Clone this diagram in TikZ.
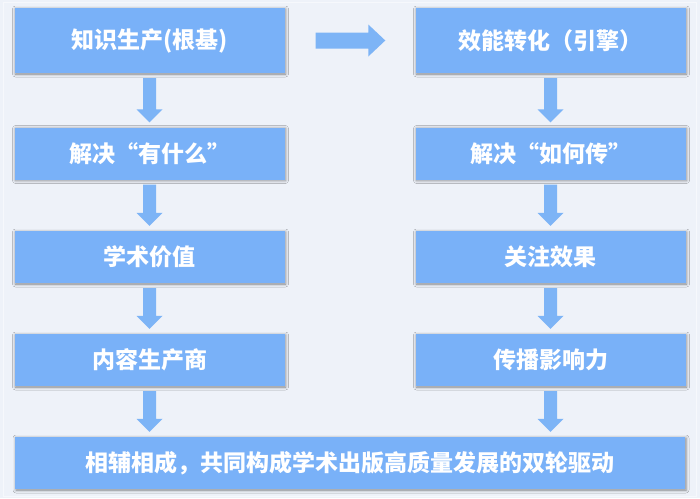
\documentclass[tikz,border=0pt]{standalone}
\usepackage{fontspec}
\setmainfont{Noto Sans CJK SC}
\usetikzlibrary{shadows.blur,calc}
\definecolor{bg}{RGB}{238,242,249}
\definecolor{frame}{RGB}{246,248,252}
\definecolor{boxc}{RGB}{121,177,248}
\definecolor{arrc}{RGB}{125,180,246}
\newcommand\downarr[2]{\fill[arrc] let \p1=(#1.south), \p2=(#2.north) in
 (\x1-6.5pt,\y1-5pt) -- (\x1+6.5pt,\y1-5pt) -- (\x1+6.5pt,\y2+18pt) -- (\x1+13pt,\y2+18pt) -- (\x1,\y2+5pt) -- (\x1-13pt,\y2+18pt) -- (\x1-6.5pt,\y2+18pt) -- cycle;}
\begin{document}
\begin{tikzpicture}[x=1pt,y=-1pt,
 box/.style={fill=boxc, draw=none, minimum width=270pt, minimum height=52pt, inner sep=0pt,
   text=white, font=\bfseries\fontsize{23}{23}\selectfont,
   blur shadow={shadow xshift=1pt, shadow yshift=-1pt, shadow blur radius=3pt, shadow opacity=45}}]
\useasboundingbox (0,0) rectangle (700,498);
\fill[bg] (0,0) rectangle (700,498);
\draw[frame, line width=1pt] (3,2) rectangle (696,496);
\node[box, minimum height=65pt] (a1) at (149.5,40.5) {知识生产(根基)};
\node[box] (a2) at (149.5,153.5) {解决“有什么”};
\node[box] (a3) at (149.5,257) {学术价值};
\node[box] (a4) at (149.5,360) {内容生产商};
\node[box, minimum height=65pt] (b1) at (550.5,40.5) {效能转化（引擎）};
\node[box] (b2) at (550.5,153.5) {解决“如何传”};
\node[box] (b3) at (550.5,257) {关注效果};
\node[box] (b4) at (550.5,360) {传播影响力};
\node[box, minimum width=670pt] (c) at (350,463) {相辅相成，共同构成学术出版高质量发展的双轮驱动};
\downarr{a1}{a2}
\downarr{a2}{a3}
\downarr{a3}{a4}
\downarr{a4}{c}
\downarr{b1}{b2}
\downarr{b2}{b3}
\downarr{b3}{b4}
\downarr{b4}{c}
\fill[arrc] let \p1=(a1.east), \p2=(b1.west) in
 (\x1+31pt,\y1-8pt) -- (\x2-47pt,\y1-8pt) -- (\x2-47pt,\y1-16pt) -- (\x2-30pt,\y1)
 -- (\x2-47pt,\y1+16pt) -- (\x2-47pt,\y1+8pt) -- (\x1+31pt,\y1+8pt) -- cycle;
\end{tikzpicture}
\end{document}
